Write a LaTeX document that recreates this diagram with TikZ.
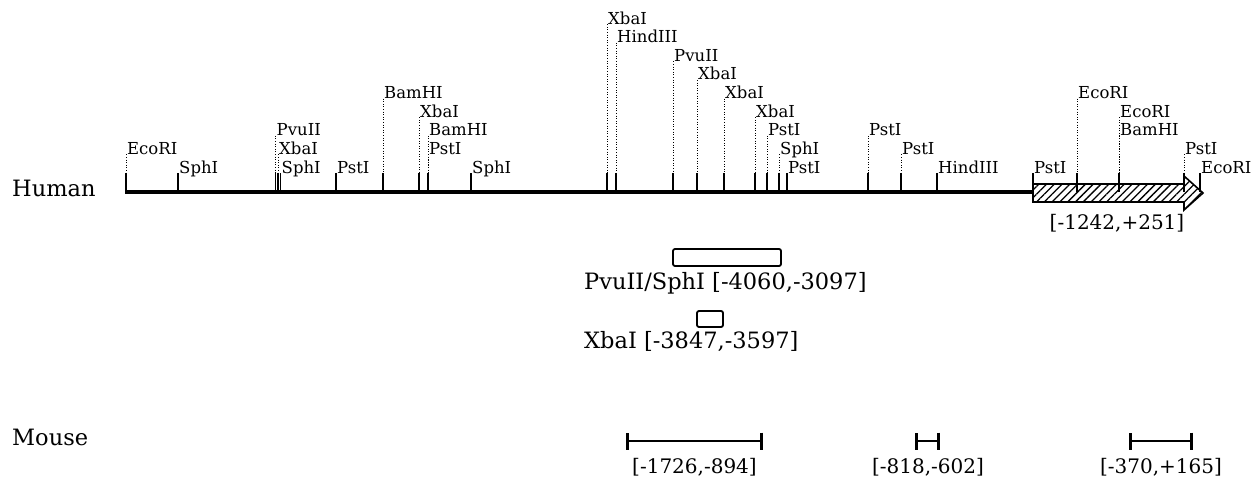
\documentclass[tikz,border=0pt]{standalone}
\usepackage{fontspec}
\setmainfont{DejaVu Serif}
\usetikzlibrary{patterns.meta,arrows.meta}

\tikzset{
  site/.style={anchor=base west, inner sep=0pt, font=\fontsize{16.5}{18}\selectfont},
  espece/.style={anchor=west, inner sep=0pt, font=\fontsize{22.5}{24}\selectfont},
  crochet/.style={inner sep=0pt, font=\fontsize{20}{22}\selectfont},
  sonde/.style={draw, line width=1.8pt, rounded corners=2pt, inner sep=0pt},
  segment/.style={line width=2.8pt, {Bar[width=17pt]}-{Bar[width=17pt]}},
  pointille/.style={line width=1pt, dash pattern=on 1pt off 1.6pt},
}

\begin{document}
\begin{tikzpicture}[x=1pt,y=-1pt]
   \useasboundingbox (0,0) rectangle (1257,484);

   % Carte humaine
   \node[espece] (hum) at (12,188) {Human};
   \coordinate (h0) at (125,192);
   \coordinate (h1) at (1033,192);
   \draw[line width=3.4pt] (h0) -- (h1);

   % Fleche hachuree
   \draw[line width=1.6pt, pattern={Lines[angle=45,distance=5.5pt,line width=1.3pt]}]
      (1033,184) -- (1184,184) -- (1184,176) -- (1203,193) -- (1184,210) -- (1184,202) -- (1033,202) -- cycle;
   \node[crochet] (fl) at (1117,223) {[-1242,+251]};

   % Sites de restriction
   \foreach \x/\r/\nom [count=\i] in {126/1/EcoRI, 178/0/SphI, 275.5/2/PvuII, 278/1/XbaI, 280.5/0/SphI,
      336/0/PstI, 383/4/BamHI, 419/3/XbaI, 428/2/BamHI, 428/1/PstI, 471/0/SphI, 607/8/XbaI,
      616/7/HindIII, 673/6/PvuII, 697/5/XbaI, 724/4/XbaI, 755/3/XbaI, 767/2/PstI, 779/1/SphI,
      787/0/PstI, 868/2/PstI, 901/1/PstI, 937/0/HindIII, 1033/0/PstI, 1077/4/EcoRI,
      1119/3/EcoRI, 1119/2/BamHI, 1184/1/PstI, 1200/0/EcoRI}{
      \node[site] (s\i) at (\x+1, 173-18.6*\r) {\nom};
      \coordinate (t\i) at (\x,173);
      \draw[pointille] (t\i |- s\i.base) -- (t\i);
      \draw[line width=1.1pt] (t\i) -- (\x,192);
   }

   % Sondes
   \node[sonde, minimum width=108pt, minimum height=17pt] (pv) at (727,257.5) {};
   \node[espece] (pvl) at (584,283) {PvuII/SphI [-4060,-3097]};
   \node[sonde, minimum width=26pt, minimum height=16pt] (xb) at (710,319) {};
   \node[espece] (xbl) at (584,341) {XbaI [-3847,-3597]};

   % Souris
   \node[espece] (mou) at (12,437) {Mouse};
   \coordinate (m1a) at (626,441);
   \coordinate (m1b) at (763,441);
   \coordinate (m2a) at (915,441);
   \coordinate (m2b) at (940,441);
   \coordinate (m3a) at (1129,441);
   \coordinate (m3b) at (1193,441);
   \draw[segment] (m1a) -- (m1b);
   \draw[segment] (m2a) -- (m2b);
   \draw[segment] (m3a) -- (m3b);
   \node[crochet] (l1) at (694.5,467) {[-1726,-894]};
   \node[crochet] (l2) at (928,467) {[-818,-602]};
   \node[crochet] (l3) at (1161,467) {[-370,+165]};
\end{tikzpicture}
\end{document}
